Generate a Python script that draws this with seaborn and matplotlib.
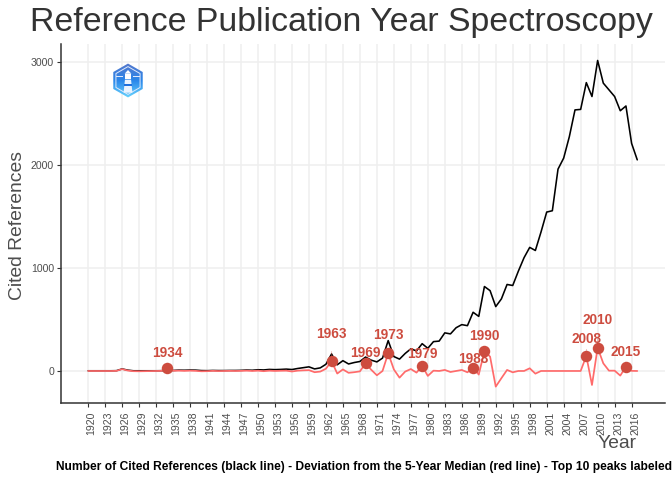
import numpy as np
import pandas as pd
import matplotlib
matplotlib.use("Agg")
import matplotlib.pyplot as plt
from matplotlib.patches import RegularPolygon, Rectangle, Polygon
from matplotlib.transforms import ScaledTranslation
import seaborn as sns

years = list(range(1920, 2018))
cited = [2, 2, 2, 2, 2, 3, 20, 8, 2, 2,
         2, 2, 2, 3, 6, 5, 8, 7, 9, 8,
         4, 3, 5, 4, 4, 5, 5, 6, 9, 7,
         12, 10, 15, 13, 15, 18, 14, 24, 32, 40,
         20, 30, 65, 165, 60, 100, 68, 82, 92, 135,
         105, 88, 125, 295, 140, 115, 170, 215, 195, 265,
         220, 285, 290, 370, 360, 420, 450, 440, 570, 530,
         820, 780, 625, 700, 840, 830, 970, 1100, 1200, 1170,
         1350, 1543, 1556, 1960, 2067, 2275, 2535, 2540, 2800, 2665,
         3015, 2795, 2730, 2665, 2527, 2573, 2210, 2050]
deviation = [0, 0, 0, 0, 0, 1, 18, 4, -2, -3,
             -2, -1, 0, 1, 32, 2, 3, 1, 3, 1,
             -3, -2, 1, -1, 0, 1, 0, 1, 3, 0,
             3, -2, 3, 0, 2, 3, -5, 3, 6, 8,
             -12, -6, 22, 95, -25, 15, -18, -12, -4, 73,
             12, -42, 0, 172, 15, -65, -6, 19, -16, 48,
             -48, 3, 0, 10, -10, 0, 10, -13, 32, -35,
             194, 139, -152, -70, 10, -13, 0, 0, 26, -26,
             0, 0, 0, 0, 0, 0, 0, 0, 146, -136,
             226, 74, 3, 3, -45, 42, 1, 0]
peak_years = [1934, 1963, 1969, 1973, 1979, 1988, 1990, 2008, 2010, 2015]
label_rise = [15, 27, 10, 18.5, 12, 9, 15, 17, 28, 15]
tick_years = list(range(1920, 2017, 3))
y_ticks = [0, 1000, 2000, 3000]

INK = "#333333"
RED_LINE = "#ff6b6b"
RED_MARK = "#cd4c3f"
GRID = "#efefef"

sns.set_theme(style="white")
plt.rcParams["font.family"] = ["Liberation Sans", "DejaVu Sans"]

W, H = 672, 480
fig = plt.figure(figsize=(W / 100, H / 100), dpi=100, facecolor="white")
ax = fig.add_axes([61 / W, 1 - 403 / H, (665 - 61) / W, (403 - 44) / H])

df = pd.DataFrame({"Year": years, "Cited": cited, "Deviation": deviation})
peaks = df[df["Year"].isin(peak_years)]

sns.lineplot(data=df, x="Year", y="Cited", color="black", linewidth=1.15, ax=ax, zorder=3)
sns.lineplot(data=df, x="Year", y="Deviation", color=RED_LINE, linewidth=1.25, ax=ax, zorder=4)
sns.scatterplot(data=peaks, x="Year", y="Deviation", color=RED_MARK, s=68, linewidth=0, ax=ax, zorder=5)

for yr, val, rise in zip(peaks["Year"], peaks["Deviation"], label_rise):
    ax.annotate(str(yr), xy=(yr, val), xytext=(0, rise), textcoords="offset pixels",
                ha="center", va="center", fontsize=9.8, fontweight="bold", color=RED_MARK, zorder=6,
                arrowprops=dict(arrowstyle="-", color=RED_MARK, lw=0.4, alpha=0.6,
                                shrinkA=5, shrinkB=0))

ax.set_xlim(1915.2, 2021.9)
ax.set_ylim(-311, 3175)
ax.set_xticks(tick_years)
ax.set_xticklabels([str(t) for t in tick_years], rotation=90)
ax.set_yticks(y_ticks)
ax.grid(True, color=GRID, linewidth=1.1, zorder=0)
ax.set_axisbelow(True)
ax.tick_params(axis="x", length=3, width=0.8, color=INK, labelsize=7.6, labelcolor="#4d4d4d", pad=3, bottom=True)
ax.tick_params(axis="y", length=3, width=0.8, color=INK, labelsize=7.6, labelcolor="#4d4d4d", pad=2, left=True)
shift = ScaledTranslation(3.5 / 100, 0, fig.dpi_scale_trans)
for lab in ax.get_xticklabels():
    lab.set_transform(lab.get_transform() + shift)
for s in ("top", "right"):
    ax.spines[s].set_visible(False)
for s in ("left", "bottom"):
    ax.spines[s].set_color(INK)
    ax.spines[s].set_linewidth(1.1)

ax.set_xlabel("")
ax.set_ylabel("Cited References", fontsize=13.9, color="#4d4d4d")
ax.yaxis.set_label_coords((26 - 61) / (665 - 61), 0.495)
fig.text(637 / W, 1 - 443 / H, "Year", ha="right", va="center", fontsize=13.9, color="#4d4d4d")
fig.text(341 / W, 1 - 23 / H, "Reference Publication Year Spectroscopy", ha="center", va="center",
         fontsize=24.4, color=INK)
fig.text(363.5 / W, 1 - 467 / H,
         "Number of Cited References (black line) - Deviation from the 5-Year Median (red line) - Top 10 peaks labeled",
         ha="center", va="center", fontsize=8.68, fontweight="bold", color="black")

# logo badge
lx, ly, lw_, lh_ = 111, 61, 34, 39
logo = fig.add_axes([lx / W, 1 - (ly + lh_) / H, lw_ / W, lh_ / H], zorder=10)
logo.set_xlim(-1.0, 1.0)
logo.set_ylim(-1.15, 1.15)
logo.axis("off")
grad = np.linspace(0, 1, 64)[:, None]
cmap = matplotlib.colors.LinearSegmentedColormap.from_list("logo", ["#5a76c8", "#2a86ea", "#6fdcff"])
im = logo.imshow(grad, extent=(-1, 1, -1.15, 1.15), origin="upper", cmap=cmap, aspect="auto")
hexa = RegularPolygon((0, 0), 6, radius=1.0, orientation=0, transform=logo.transData,
                      facecolor="none", edgecolor="none")
logo.add_patch(hexa)
im.set_clip_path(hexa)
logo.add_patch(RegularPolygon((0, 0), 6, radius=0.82, orientation=0, fill=False, edgecolor="#dfe9fb", lw=0.7))
logo.add_patch(Polygon([(-0.18, 0.05), (0.18, 0.05), (0.26, -0.72), (-0.26, -0.72)], facecolor="#eaf3ff", edgecolor="none"))
logo.add_patch(Rectangle((-0.2, 0.1), 0.4, 0.3, facecolor="white", edgecolor="none"))
logo.add_patch(Polygon([(-0.2, 0.4), (0.2, 0.4), (0, 0.62)], facecolor="white", edgecolor="none"))
logo.add_patch(Rectangle((-0.23, -0.3), 0.46, 0.12, facecolor="#1f6fdc", edgecolor="none"))
logo.add_patch(Rectangle((-0.72, 0.18), 0.45, 0.06, facecolor="#dfe9fb", edgecolor="none"))
logo.add_patch(Rectangle((0.27, 0.18), 0.45, 0.06, facecolor="#dfe9fb", edgecolor="none"))

fig.savefig("out.png", dpi=100)
